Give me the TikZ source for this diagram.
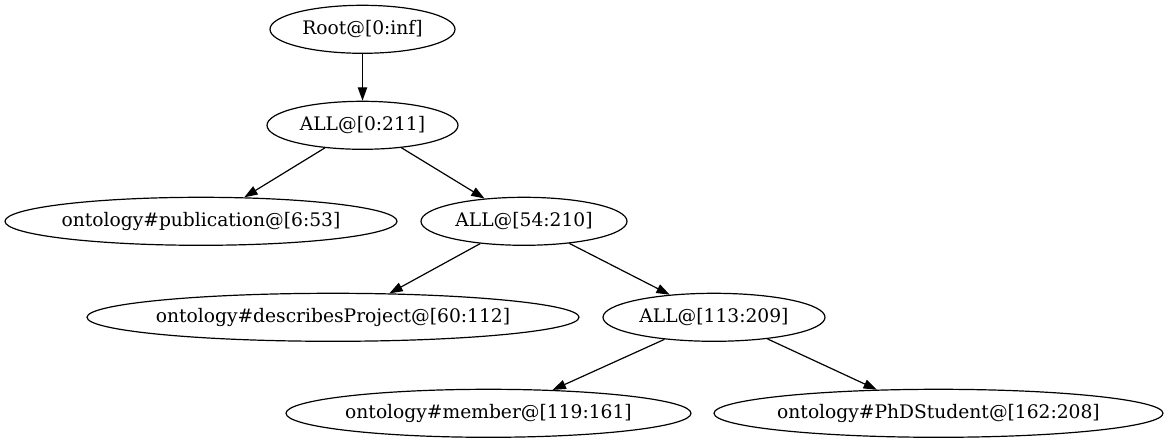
\documentclass[tikz,border=0pt]{standalone}
\usepackage{fontspec}
\setmainfont{DejaVu Serif}
\usetikzlibrary{shapes.geometric,arrows.meta}
\begin{document}
\begin{tikzpicture}[x=1pt,y=-1pt,
  gv/.style={ellipse,draw,line width=1.2pt,inner sep=0pt,minimum height=48pt,
    font=\fontsize{18.67}{22}\selectfont},
  gvedge/.style={draw,line width=1.2pt,-{Triangle[length=13.3pt,width=9.3pt]}}]
\useasboundingbox (0,0) rectangle (1170,443);
\node[gv,minimum width=185pt] (root) at (362.5,29.3) {\makebox[0pt]{Root@[0:inf]}};
\node[gv,minimum width=191pt] (all0) at (362.5,125.3) {\makebox[0pt]{ALL@[0:211]}};
\node[gv,minimum width=392pt] (pub) at (201,221.3) {\makebox[0pt]{ontology\#publication@[6:53]}};
\node[gv,minimum width=206pt] (all54) at (524,221.3) {\makebox[0pt]{ALL@[54:210]}};
\node[gv,minimum width=492pt] (desc) at (333,317.3) {\makebox[0pt]{ontology\#describesProject@[60:112]}};
\node[gv,minimum width=222pt] (all113) at (714,317.3) {\makebox[0pt]{ALL@[113:209]}};
\node[gv,minimum width=405pt] (mem) at (488.5,413.3) {\makebox[0pt]{ontology\#member@[119:161]}};
\node[gv,minimum width=449pt] (phd) at (938.5,413.3) {\makebox[0pt]{ontology\#PhDStudent@[162:208]}};
\draw[gvedge] (root.south) -- (all0.north);
\draw[gvedge] (all0.-149.5) -- (pub.29.8);
\draw[gvedge] (all0.-30.5) -- (all54.150.4);
\draw[gvedge] (all54.-153.7) -- (desc.23);
\draw[gvedge] (all54.-26.9) -- (all113.153.4);
\draw[gvedge] (all113.-156.3) -- (mem.20.4);
\draw[gvedge] (all113.-22.7) -- (phd.159.1);
\end{tikzpicture}
\end{document}
